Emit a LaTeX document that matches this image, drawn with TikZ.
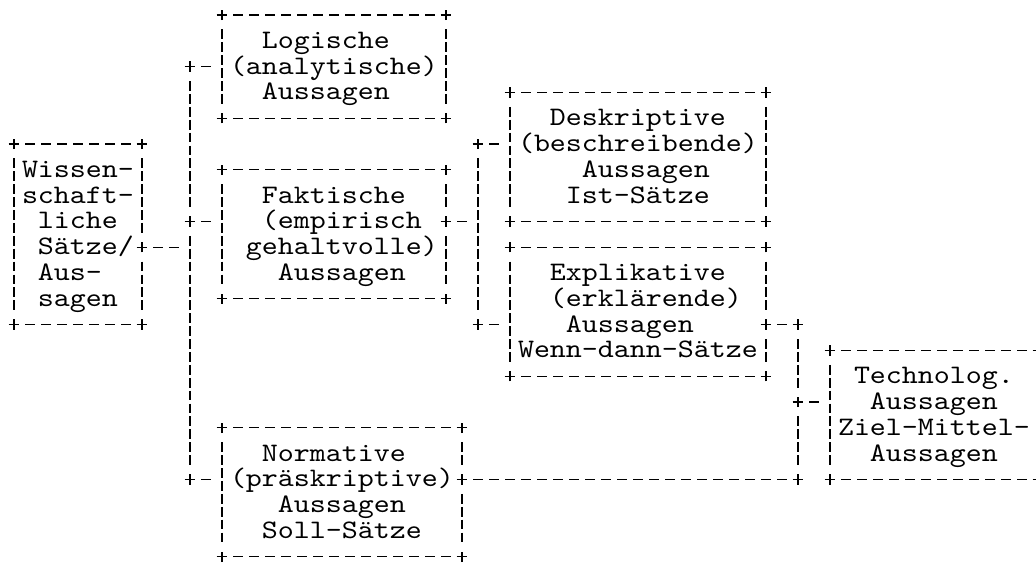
\documentclass[tikz,border=0pt]{standalone}
\usepackage{fontspec}
\newfontfamily\asciimono{lmmono10-regular.otf}[FakeStretch=1.141]
\newcommand\blk{\hphantom{0}}
\newcommand\txl[1]{\raisebox{0pt}[20.4pt][5.4pt]{#1}}
\exhyphenpenalty=10000
\hyphenpenalty=10000
% top and bottom border, west border and the four corners of a box
\newcommand\asciiframe[1]{%
  \draw[hl] (#1.north west) -- (#1.north east);
  \draw[hl] (#1.south west) -- (#1.south east);
  \draw[vl] (#1.north west) -- (#1.south west);
  \pic at (#1.north west) {plusmark};
  \pic at (#1.north east) {plusmark};
  \pic at (#1.south west) {plusmark};
  \pic at (#1.south east) {plusmark};}
\newcommand\asciieast[1]{\draw[vl] (#1.north east) -- (#1.south east);}
\begin{document}
\begin{tikzpicture}[x=16pt, y=-25.8pt,
  hl/.style={line width=1.2pt, dash pattern=on 10pt off 6pt, dash phase=5pt},
  link/.style={hl, shorten >=5.5pt},
  vl/.style={line width=1.2pt, dash pattern=on 9.8pt off 3.1pt, dash phase=11.35pt,
    shorten <=12.9pt, shorten >=12.9pt},
  box/.style={inner sep=0pt, outer sep=0pt, align=left,
    font=\asciimono\fontsize{26.7pt}{25.8pt}\selectfont},
  plusmark/.pic={\draw[line width=1.2pt] (-5.3pt,0pt) -- (5.3pt,0pt) (0pt,-5.2pt) -- (0pt,5.2pt);}]
\useasboundingbox (-0.875,-0.5814) rectangle (63.875,21.318);
\fill[white] (-0.875,-0.5814) rectangle (63.875,21.318);
\clip (-0.875,-0.5814) rectangle (63.875,21.318);

% boxes
\node[box, minimum width=128pt, minimum height=180.6pt, text width=112pt] (W) at (4,8.5)
  {\txl{Wissen-}\\\txl{schaft-}\\\txl{\blk liche}\\\txl{\blk Sätze/}\\\txl{\blk Aus-}\\\txl{\blk sagen}};
\node[box, minimum width=224pt, minimum height=103.2pt, text width=208pt] (L) at (20,2)
  {\txl{\blk\blk Logische}\\\txl{(analytische)}\\\txl{\blk\blk Aussagen}};
\node[box, minimum width=224pt, minimum height=129pt, text width=208pt] (F) at (20,8.5)
  {\txl{\blk\blk Faktische}\\\txl{\blk\blk (empirisch}\\\txl{\blk gehaltvolle)}\\\txl{\blk\blk\blk Aussagen}};
\node[box, minimum width=240pt, minimum height=129pt, text width=224pt] (N) at (20.5,18.5)
  {\txl{\blk\blk Normative}\\\txl{(präskriptive)}\\\txl{\blk\blk\blk Aussagen}\\\txl{\blk\blk Soll-Sätze}};
\node[box, minimum width=256pt, minimum height=129pt, text width=240pt] (D) at (39,5.5)
  {\txl{\blk\blk Deskriptive}\\\txl{(beschreibende)}\\\txl{\blk\blk\blk\blk Aussagen}\\\txl{\blk\blk\blk Ist-Sätze}};
\node[box, minimum width=256pt, minimum height=129pt, text width=240pt] (E) at (39,11.5)
  {\txl{\blk\blk Explikative}\\\txl{\blk\blk (erklärende)}\\\txl{\blk\blk\blk Aussagen}\\\txl{Wenn-dann-Sätze}};
\node[box, minimum width=208pt, minimum height=129pt, text width=192pt] (T) at (57.5,15.5)
  {\txl{\blk Technolog.}\\\txl{\blk\blk Aussagen}\\\txl{Ziel-Mittel-}\\\txl{\blk\blk Aussagen}};

% junction coordinates
\coordinate (t1top) at (11,2);
\coordinate (t1f) at (11,8);
\coordinate (t1w) at (11,9);
\coordinate (t1bot) at (11,18);
\coordinate (t2top) at (29,5);
\coordinate (t2f) at (29,8);
\coordinate (t2bot) at (29,12);
\coordinate (t3top) at (49,12);
\coordinate (t3t) at (49,15);
\coordinate (t3bot) at (49,18);

% box borders
\asciiframe{W}
\asciiframe{L}
\asciiframe{F}
\asciiframe{N}
\asciiframe{D}
\asciiframe{E}
\asciiframe{T}
\asciieast{L}
\asciieast{D}
\asciieast{T}
\draw[vl] (W.north east) -- (W.east |- t1w);
\draw[vl] (W.east |- t1w) -- (W.south east);
\draw[vl] (F.north east) -- (F.east |- t2f);
\draw[vl] (F.east |- t2f) -- (F.south east);
\draw[vl] (E.north east) -- (E.east |- t3top);
\draw[vl] (E.east |- t3top) -- (E.south east);
\draw[vl] (N.north east) -- (N.east |- t3bot);
\draw[vl] (N.east |- t3bot) -- (N.south east);

% trunks
\draw[vl] (t1top) -- (t1f);
\draw[vl] (t1f) -- (t1bot);
\draw[vl] (t2top) -- (t2bot);
\draw[vl] (t3top) -- (t3t);
\draw[vl] (t3t) -- (t3bot);

% branches
\draw[link] (W.east |- t1w) -- (t1w);
\draw[link] (t1top) -- (L.west |- t1top);
\draw[link] (t1f) -- (F.west |- t1f);
\draw[link] (t1bot) -- (N.west |- t1bot);
\draw[link] (F.east |- t2f) -- (t2f);
\draw[link] (t2top) -- (D.west |- t2top);
\draw[link] (t2bot) -- (E.west |- t2bot);
\draw[hl] (E.east |- t3top) -- (t3top);
\draw[link] (t3t) -- (T.west |- t3t);
\draw[hl] (N.east |- t3bot) -- (t3bot);

% plus marks at junctions
\pic at (W.east |- t1w) {plusmark};
\pic at (t1top) {plusmark};
\pic at (t1f) {plusmark};
\pic at (t1bot) {plusmark};
\pic at (F.east |- t2f) {plusmark};
\pic at (t2top) {plusmark};
\pic at (t2bot) {plusmark};
\pic at (E.east |- t3top) {plusmark};
\pic at (t3top) {plusmark};
\pic at (t3t) {plusmark};
\pic at (t3bot) {plusmark};
\pic at (N.east |- t3bot) {plusmark};
\end{tikzpicture}
\end{document}
